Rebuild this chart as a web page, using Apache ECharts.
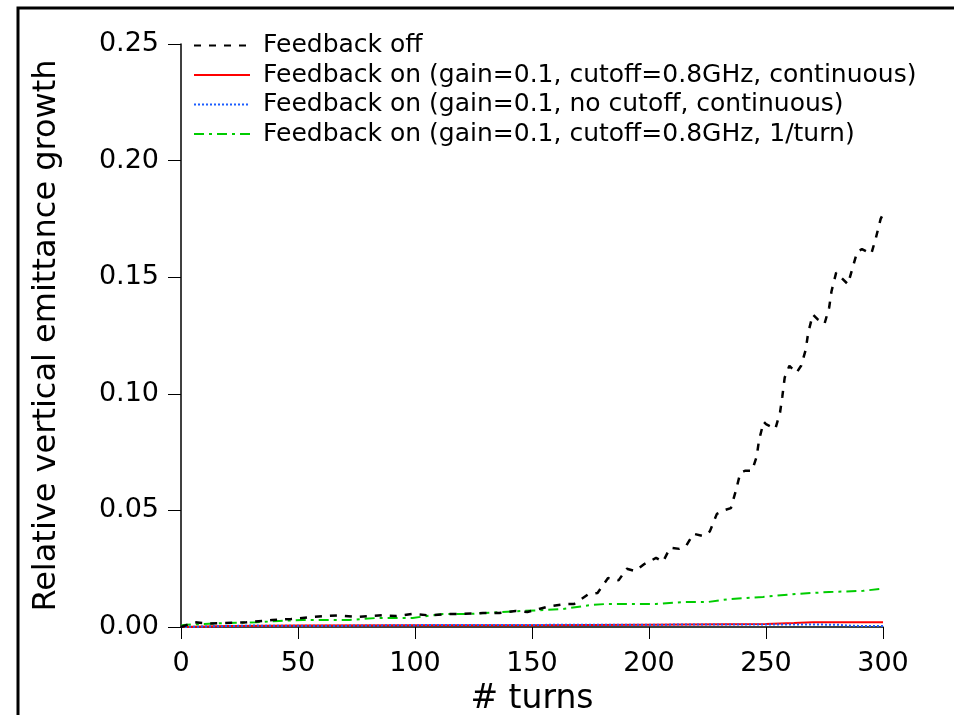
<!DOCTYPE html>
<html>
<head>
<meta charset="utf-8">
<script src="https://cdn.jsdelivr.net/npm/echarts@6/dist/echarts.min.js"></script>
<style>
  html, body { margin: 0; padding: 0; background: #fff; }
  #chart { width: 954px; height: 715px; }
</style>
</head>
<body>
<div id="chart"></div>
<script>
// values
const offTurns = [0, 6, 12, 18, 28, 39, 47, 56, 67, 75, 81, 86, 92, 99, 106, 114, 120, 129, 136, 143, 148, 153, 158, 165, 168, 174, 178, 182.5, 187, 190.5, 194, 198, 203, 206, 209, 213, 216, 219, 223, 226, 229, 232, 235, 237, 239, 241, 244, 246, 247, 249, 250, 254, 256, 257, 258, 260, 263, 265, 267, 268, 270, 272, 275, 277, 278, 280, 282, 285, 287, 289, 291, 295, 297, 299, 300];
const offVals = [0, 0.002, 0.0015, 0.0017, 0.002, 0.003, 0.0034, 0.0043, 0.005, 0.0043, 0.0047, 0.005, 0.0047, 0.0056, 0.005, 0.0056, 0.0056, 0.006, 0.006, 0.0069, 0.0064, 0.0077, 0.009, 0.0099, 0.0099, 0.014, 0.0146, 0.021, 0.020, 0.025, 0.024, 0.027, 0.0296, 0.028, 0.034, 0.0335, 0.035, 0.040, 0.039, 0.041, 0.0485, 0.050, 0.051, 0.058, 0.066, 0.067, 0.067, 0.073, 0.080, 0.088, 0.087, 0.085, 0.092, 0.099, 0.107, 0.112, 0.109, 0.112, 0.119, 0.126, 0.134, 0.132, 0.130, 0.137, 0.144, 0.152, 0.150, 0.147, 0.154, 0.161, 0.162, 0.160, 0.167, 0.175, 0.177];

const cutTurns = [0, 20, 50, 100, 150, 200, 250, 262, 270, 300];
const cutVals = [0, 0.0004, 0.0006, 0.0007, 0.0008, 0.001, 0.0013, 0.0017, 0.002, 0.002];

const noCutTurns = [0, 30, 60, 100, 150, 200, 250, 280, 287, 300];
const noCutVals = [0, 0.0006, 0.0005, 0.0008, 0.0009, 0.001, 0.0011, 0.001, 0.0005, 0.0004];

const perTurnTurns = [0, 1, 9, 19, 32, 42, 52, 61, 72, 84, 99, 112, 123.5, 136, 146, 156, 163, 175, 182, 192, 203, 214.5, 225, 234.6, 248.7, 263, 277, 291.5, 300];
const perTurnVals = [0.0005, 0.0009, 0.0013, 0.0017, 0.002, 0.0026, 0.003, 0.003, 0.003, 0.0039, 0.0039, 0.0056, 0.0056, 0.0064, 0.0069, 0.0073, 0.0077, 0.0094, 0.0099, 0.0099, 0.0099, 0.0107, 0.0107, 0.012, 0.0129, 0.0142, 0.015, 0.0155, 0.0165];

const yTicks = [0, 0.05, 0.1, 0.15, 0.2, 0.25];

const names = [
  'Feedback off',
  'Feedback on (gain=0.1, cutoff=0.8GHz, continuous)',
  'Feedback on (gain=0.1, no cutoff, continuous)',
  'Feedback on (gain=0.1, cutoff=0.8GHz, 1/turn)'
];

function pairs(xs, ys) {
  return xs.map(function (x, i) { return [x, ys[i]]; });
}

const font = 'DejaVu Sans';
const myChart = echarts.init(document.getElementById('chart'));

const option = {
  backgroundColor: '#fff',
  animation: false,
  textStyle: { fontFamily: font },
  graphic: [
    {
      type: 'rect',
      shape: { x: 18, y: 8, width: 960, height: 740 },
      style: { fill: 'none', stroke: '#000', lineWidth: 3 },
      silent: true
    }
  ],
  grid: { left: 181, right: 71, top: 44, bottom: 88, outerBoundsMode: 'none', containLabel: false },
  legend: {
    orient: 'vertical',
    left: 188,
    top: 28,
    itemWidth: 56,
    itemHeight: 14,
    itemGap: 4.5,
    data: names,
    itemStyle: { opacity: 0 },
    textStyle: { fontSize: 25, color: '#000', fontFamily: font, padding: [0, 0, 0, 8], lineHeight: 25 }
  },
  xAxis: {
    type: 'value',
    min: 0,
    max: 300,
    interval: 50,
    name: '# turns',
    nameLocation: 'middle',
    nameGap: 56,
    nameTextStyle: { fontSize: 33, color: '#000', fontFamily: font },
    axisLine: { onZero: false, lineStyle: { color: '#000', width: 1.5 } },
    axisTick: { show: true, length: 12, lineStyle: { color: '#000' } },
    axisLabel: { fontSize: 27, color: '#000', margin: 23, fontFamily: font },
    splitLine: { show: false }
  },
  yAxis: {
    type: 'value',
    min: 0,
    max: 0.25,
    interval: 0.05,
    name: 'Relative vertical emittance growth',
    nameLocation: 'middle',
    nameRotate: 90,
    nameGap: 118,
    nameTextStyle: { fontSize: 32, color: '#000', fontFamily: font },
    axisLine: { show: true, lineStyle: { color: '#000', width: 1.5 } },
    axisTick: { show: true, length: 13, lineStyle: { color: '#000' } },
    axisLabel: {
      fontSize: 27, color: '#000', margin: 22, fontFamily: font,
      formatter: function (v) { return yTicks.indexOf(+v.toFixed(2)) >= 0 ? v.toFixed(2) : ''; }
    },
    splitLine: { show: false }
  },
  series: [
    {
      name: names[0], type: 'line', symbol: 'none',
      data: pairs(offTurns, offVals),
      lineStyle: { color: '#000', width: 2.5, type: [7, 8] },
      itemStyle: { color: '#000' }, z: 4
    },
    {
      name: names[1], type: 'line', symbol: 'none',
      data: pairs(cutTurns, cutVals),
      lineStyle: { color: '#ff0000', width: 2, type: 'solid' },
      itemStyle: { color: '#ff0000' }, z: 2
    },
    {
      name: names[2], type: 'line', symbol: 'none',
      data: pairs(noCutTurns, noCutVals),
      lineStyle: { color: '#1a5cff', width: 2, type: [2, 2] },
      itemStyle: { color: '#1a5cff' }, z: 3
    },
    {
      name: names[3], type: 'line', symbol: 'none',
      data: pairs(perTurnTurns, perTurnVals),
      lineStyle: { color: '#00cc00', width: 2, type: [10, 5, 3, 5] },
      itemStyle: { color: '#00cc00' }, z: 3
    }
  ]
};

myChart.setOption(option);
window.addEventListener('resize', function () {
  myChart.resize();
});
</script>
</body>
</html>
